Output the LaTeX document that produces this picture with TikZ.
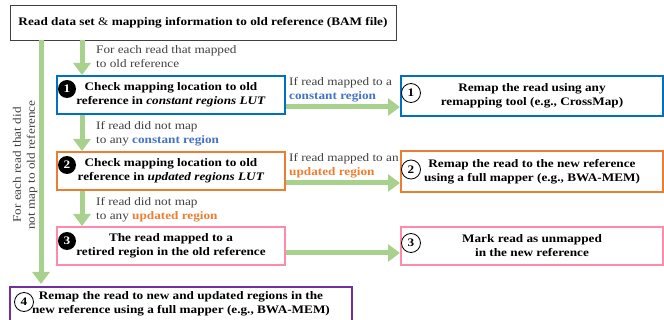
\documentclass[tikz,border=0pt]{standalone}
\usepackage{fontspec}
\setmainfont{Liberation Serif}[FakeStretch=1.15]
\usetikzlibrary{arrows.meta,calc}
\definecolor{garrow}{HTML}{A9D18E}
\definecolor{cbluebox}{HTML}{0070C0}
\definecolor{cbluetxt}{HTML}{4472C4}
\definecolor{corange}{HTML}{ED7D31}
\definecolor{cpink}{HTML}{FF8AAA}
\definecolor{cpurple}{HTML}{7030A0}
\definecolor{lblgray}{HTML}{404040}
\definecolor{topgray}{HTML}{404040}
\newcommand{\basefont}{\fontsize{11.5}{14}\selectfont}
\tikzset{
  fbox/.style={draw, line width=2pt, align=center, inner sep=0pt, font=\basefont\bfseries},
  garr/.style={draw=garrow, line width=5pt, -{Triangle[width=17pt,length=12pt]}},
  lbl/.style={text=lblgray, anchor=west, align=left, inner sep=0pt},
  numfill/.style={circle, fill=black, text=white, font=\basefont\bfseries, minimum size=18pt, inner sep=0pt},
  numcirc/.style={circle, draw=black, line width=0.8pt, font=\basefont\bfseries, minimum size=19pt, inner sep=0pt},
}
\begin{document}
\begin{tikzpicture}[x=1pt,y=-1pt,font=\basefont]
\useasboundingbox (0,0) rectangle (664,320);
% nodes
\node[draw=topgray, line width=0.9pt, minimum width=386pt, minimum height=35pt, inner sep=0pt] (top) at (203,22.5)
  {\textbf{Read data set} \& \textbf{mapping information to old reference (BAM file)}};
\node[fbox, draw=cbluebox, minimum width=228pt, minimum height=38pt] (b1) at (171,95)
  {Check mapping location to old\\reference in \textit{constant regions LUT}};
\node[fbox, draw=corange, minimum width=228pt, minimum height=38pt] (b2) at (171,171)
  {Check mapping location to old\\reference in \textit{updated regions LUT}};
\node[fbox, draw=cpink, minimum width=228pt, minimum height=38pt] (b3) at (171,246)
  {The read mapped to a\\retired region in the old reference};
\node[fbox, draw=cbluebox, minimum width=262pt, minimum height=40pt] (r1) at (532,96)
  {Remap the read using any\\remapping tool (e.g., CrossMap)};
\node[fbox, draw=corange, minimum width=262pt, minimum height=41pt] (r2) at (532,171.5)
  {Remap the read to the new reference\\using a full mapper (e.g., BWA-MEM)};
\node[fbox, draw=cpink, minimum width=262pt, minimum height=38pt] (r3) at (532,246)
  {Mark read as unmapped\\in the new reference};
\node[fbox, draw=cpurple, minimum width=342pt, minimum height=34pt] (b4) at (181,304)
  {Remap the read to new and updated regions in the\\new reference using a full mapper (e.g., BWA-MEM)};
% number markers
\node[numfill] (n1) at ($(b1.west)+(11,-6)$) {1};
\node[numfill] (n2) at ($(b2.west)+(11,-6)$) {2};
\node[numfill] (n3) at ($(b3.west)+(11,-5)$) {3};
\node[numcirc] (m1) at ($(r1.west)+(11,-3)$) {1};
\node[numcirc] (m2) at ($(r2.west)+(11,-2)$) {2};
\node[numcirc] (m3) at ($(r3.west)+(11,-3)$) {3};
\node[numcirc] (m4) at ($(b4.west)+(15,-2)$) {4};
% helper coordinates
\coordinate (lx) at (41,0);
\coordinate (ix) at (82,0);
\coordinate (hy1) at (0,107);
\coordinate (hy2) at (0,183);
\coordinate (hy3) at (0,253);
% arrows
\draw[garr, shorten >=2pt] (top.south -| lx) -- (b4.north -| lx);
\draw[garr] (top.south -| ix) -- (b1.north -| ix);
\draw[garr] (b1.south -| ix) -- (b2.north -| ix);
\draw[garr] (b2.south -| ix) -- (b3.north -| ix);
\draw[garr] (b1.east |- hy1) -- (r1.west |- hy1);
\draw[garr] (b2.east |- hy2) -- (r2.west |- hy2);
\draw[garr] (b3.east |- hy3) -- (r3.west |- hy3);
% labels
\node[lbl] (l1) at (96,57) {For each read that mapped\\to old reference};
\node[lbl] (l2) at (96,134) {If read did not map\\to any \textcolor{cbluetxt}{\textbf{constant region}}};
\node[lbl] (l3) at (96,209.5) {If read did not map\\to any \textcolor{corange}{\textbf{updated region}}};
\node[lbl] (l4) at (289,90) {If read mapped to a\\\textcolor{cbluetxt}{\textbf{constant region}}};
\node[lbl] (l5) at (289,165.5) {If read mapped to an\\\textcolor{corange}{\textbf{updated region}}};
\node[text=lblgray, rotate=90, align=center, inner sep=0pt] (lr) at (25,165) {For each read that did\\not map to old reference};
\end{tikzpicture}
\end{document}
